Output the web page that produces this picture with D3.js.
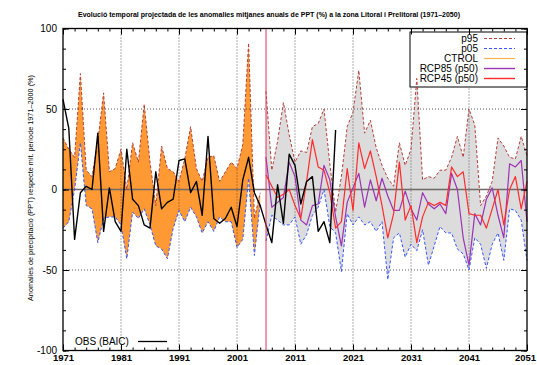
<!DOCTYPE html>
<html><head><meta charset="utf-8">
<script src="https://cdn.jsdelivr.net/npm/d3@7"></script>
<style>
body{margin:0;background:#fff}
svg{display:block}
text{font-family:"Liberation Sans",Arial,Helvetica,sans-serif}
</style>
</head><body>
<svg id="c" width="537" height="365"></svg>
<script>
// ---------------- data ----------------
const titleText = "Evolució temporal projectada de les anomalies mitjanes anuals de PPT (%) a la zona Litoral i Prelitoral (1971–2050)";
const yLabelText = "Anomalies de precipitació (PPT) respecte mit. període 1971–2000 (%)";
const xTickYears = [1971,1981,1991,2001,2011,2021,2031,2041,2051];
const yTickValues = [-100,-50,0,50,100];
const legendLabels = ["p95","p05","CTROL","RCP85 (p50)","RCP45 (p50)"];
const obsLabel = "OBS (BAIC)";
const scenarioStartYear = 2006;

// control period 1971–2005
const ctrlFirstYear = 1971;
const ctrlP95 = [32,25,20,72,12,8,30,60,11,13,25,0,29,17,53,17,-10,27,13,11,5,19,39,13,5,20,21,5,11,17,13,28,91,-18,-2];
const ctrlP05 = [-24,-20,0,29,-10,-12,-33,-18,-17,-17,-22,-43,-14,-18,-12,-22,-35,-37,-43,-24,-13,-20,-11,-17,-27,-20,-26,-17,-20,-20,-36,-31,7,-41,-8];

// projections 2006–2051
const projFirstYear = 2006;
const projP95 = [61,12,30,54,34,17,24,23,39,41,50,16,-14,8,39,48,74,35,43,26,15,7,2,29,15,25,69,6,8,7,12,12,20,33,20,50,40,-10,-4,5,32,27,20,19,33,21];
const projP05 = [-32,-16,-19,-22,-22,-17,-34,-28,-16,-11,0,-23,-27,-51,-15,-22,-17,-22,-20,-26,-20,-56,-30,-27,-42,-34,-38,-25,-47,-35,-23,-27,-27,-37,-40,-50,-30,-34,-49,-34,-27,-44,-12,-13,-19,-44];
const rcp85 = [20,-11,-8,-5,17,8,-19,-22,-10,-9,15,6,-17,-35,-8,1,10,-11,6,-7,7,-4,-13,-13,-1,-12,-19,-2,-9,-12,-9,-15,10,0,-30,-47,-15,-22,-6,1,-16,-30,16,14,18,-20];
const rcp45 = [9,2,-5,-3,0,-10,-18,5,31,14,12,-2,-24,-20,13,-13,29,13,24,8,-10,-30,-15,17,-19,-10,-33,-17,-8,-10,-8,-10,14,8,11,-15,-16,-16,-24,-12,0,-22,0,8,-12,5];

// observations 1971–2018
const obsFirstYear = 1971;
const obs = [56,38,-31,-2,2,0,35,-26,1,-20,-26,25,-6,-10,-22,-24,11,-12,-8,-6,18,19,-2,5,-16,33,-18,-21,-18,-11,-23,6,20,-2,-10,-22,-33,3,-21,22,15,-9,5,8,-26,-20,-33,37];

// ---------------- styles ----------------
const C = {
  orange:"#ff9933", grey:"#dcdcdc",
  p95:"#b5403c", p05:"#3a55ff", ctrl:"#ffb24a",
  rcp85:"#9b33b3", rcp45:"#ff2b2b", obs:"#000", vline:"#e3305a"
};

const svg = d3.select("#c");
const L=63, R=527, T=28.5, B=350.5;
const x = d3.scaleLinear().domain([1971,2051]).range([L,R]);
const y = d3.scaleLinear().domain([-100,100]).range([B,T]);

const pts = (first, arr) => arr.map((v,i)=>({yr:first+i, v}));
const band = (first, hi, lo) => hi.map((v,i)=>({yr:first+i, hi:v, lo:lo[i]}));

const area = d3.area().x(d=>x(d.yr)).y0(d=>y(d.lo)).y1(d=>y(d.hi));
const line = d3.line().x(d=>x(d.yr)).y(d=>y(d.v));

// fills
svg.append("path").datum(band(ctrlFirstYear, ctrlP95, ctrlP05)).attr("d", area).attr("fill", C.orange);
svg.append("path").datum(band(projFirstYear, projP95, projP05)).attr("fill", C.grey).attr("d", area);

// grid
const grid = svg.append("g").attr("stroke","#333").attr("stroke-width",0.8).attr("stroke-dasharray","1,2");
xTickYears.filter(d=>d>1971 && d<2051).forEach(yr=>{
  grid.append("line").attr("x1",x(yr)).attr("x2",x(yr)).attr("y1",T).attr("y2",B);
});
yTickValues.filter(v=>v!==-100 && v!==100 && v!==0).forEach(v=>{
  grid.append("line").attr("x1",L).attr("x2",R).attr("y1",y(v)).attr("y2",y(v));
});
// zero axis
svg.append("line").attr("x1",L).attr("x2",R).attr("y1",y(0)).attr("y2",y(0))
  .attr("stroke","#6f6a66").attr("stroke-width",1.6);

// legend box (top-right)
const lg = svg.append("g");
lg.append("rect").attr("x",410).attr("y",32).attr("width",117).attr("height",55)
  .attr("fill","#fff").attr("stroke","#000").attr("stroke-width",1);
const legendStyles = [
  {c:C.p95, dash:"3,2", w:1},
  {c:C.p05, dash:"3,2", w:1},
  {c:C.ctrl, dash:null, w:1.2},
  {c:C.rcp85, dash:null, w:1.4},
  {c:C.rcp45, dash:null, w:1.4}
];
legendLabels.forEach((lab,i)=>{
  const yy = 42 + i*10;
  lg.append("text").attr("x",478).attr("y",yy).attr("text-anchor","end")
    .attr("font-size",10).attr("fill","#000").text(lab);
  const ln = lg.append("line").attr("x1",484).attr("x2",515).attr("y1",yy-3.5).attr("y2",yy-3.5)
    .attr("stroke",legendStyles[i].c).attr("stroke-width",legendStyles[i].w);
  if (legendStyles[i].dash) ln.attr("stroke-dasharray",legendStyles[i].dash);
});

// OBS legend (bottom-left)
svg.append("text").attr("x",75).attr("y",345).attr("font-size",10).text(obsLabel);
svg.append("line").attr("x1",138).attr("x2",167).attr("y1",341.5).attr("y2",341.5)
  .attr("stroke","#000").attr("stroke-width",1.3);

// percentile lines
const drawLine = (data, color, width, dash) => {
  const p = svg.append("path").datum(data).attr("d", line).attr("fill","none")
    .attr("stroke", color).attr("stroke-width", width).attr("stroke-linejoin","round");
  if (dash) p.attr("stroke-dasharray", dash);
};
drawLine(pts(ctrlFirstYear, ctrlP95), C.p95, 1, "3,2");
drawLine(pts(ctrlFirstYear, ctrlP05), C.p05, 1, "3,2");
drawLine(pts(projFirstYear, projP95), C.p95, 1, "3,2");
drawLine(pts(projFirstYear, projP05), C.p05, 1, "3,2");
drawLine(pts(projFirstYear, rcp85), C.rcp85, 1.2);
drawLine(pts(projFirstYear, rcp45), C.rcp45, 1.2);
drawLine(pts(obsFirstYear, obs), C.obs, 1.4);

// scenario start line
svg.append("line").attr("x1",x(scenarioStartYear)).attr("x2",x(scenarioStartYear))
  .attr("y1",T).attr("y2",B).attr("stroke",C.vline).attr("stroke-width",1);

// axes (inward ticks, mirrored)
const xMinor = d3.range(1971, 2052, 2);
const yMinor = d3.range(-100, 100.1, 12.5);
const styleAxis = g => { g.select(".domain").remove(); g.selectAll("line").attr("stroke","#000"); };

svg.append("g").attr("transform",`translate(0,${B})`)
  .call(d3.axisBottom(x).tickValues(xMinor).tickSize(-3).tickFormat("")).call(styleAxis);
svg.append("g").attr("transform",`translate(0,${T})`)
  .call(d3.axisTop(x).tickValues(xMinor).tickSize(-3).tickFormat("")).call(styleAxis);
svg.append("g").attr("transform",`translate(${L},0)`)
  .call(d3.axisLeft(y).tickValues(yMinor).tickSize(-3).tickFormat("")).call(styleAxis);
svg.append("g").attr("transform",`translate(${R},0)`)
  .call(d3.axisRight(y).tickValues(yMinor).tickSize(-3).tickFormat("")).call(styleAxis);

const xb = svg.append("g").attr("transform",`translate(0,${B})`)
  .call(d3.axisBottom(x).tickValues(xTickYears).tickSize(-6).tickPadding(4).tickFormat(d3.format("d")))
  .call(styleAxis);
xb.selectAll("text").attr("font-size",9.5).attr("font-weight","bold").attr("fill","#000")
  .attr("font-family","'Liberation Sans',Arial,sans-serif");
xb.selectAll(".tick").filter(d=>d===2051).select("text").attr("text-anchor","end").attr("dx","0.9em");
svg.append("g").attr("transform",`translate(0,${T})`)
  .call(d3.axisTop(x).tickValues(xTickYears).tickSize(-6).tickFormat("")).call(styleAxis);
const yl = svg.append("g").attr("transform",`translate(${L},0)`)
  .call(d3.axisLeft(y).tickValues(yTickValues).tickSize(-6).tickPadding(6).tickFormat(d=>d<0? "-"+Math.abs(d) : d))
  .call(styleAxis);
yl.selectAll("text").attr("font-size",10).attr("fill","#000")
  .attr("font-family","'Liberation Sans',Arial,sans-serif");
svg.append("g").attr("transform",`translate(${R},0)`)
  .call(d3.axisRight(y).tickValues(yTickValues).tickSize(-6).tickFormat("")).call(styleAxis);

// border
svg.append("rect").attr("x",L).attr("y",T).attr("width",R-L).attr("height",B-T)
  .attr("fill","none").attr("stroke","#000").attr("stroke-width",1.3);

// title
svg.append("text").attr("x",269).attr("y",16.5).attr("text-anchor","middle")
  .attr("font-size",7.2).attr("font-weight","bold")
  .attr("textLength",382).attr("lengthAdjust","spacingAndGlyphs").text(titleText);

// y label
svg.append("text").attr("transform","translate(33,188) rotate(-90)").attr("text-anchor","middle")
  .attr("font-size",7).attr("textLength",226).attr("lengthAdjust","spacingAndGlyphs").text(yLabelText);
</script>
</body></html>
